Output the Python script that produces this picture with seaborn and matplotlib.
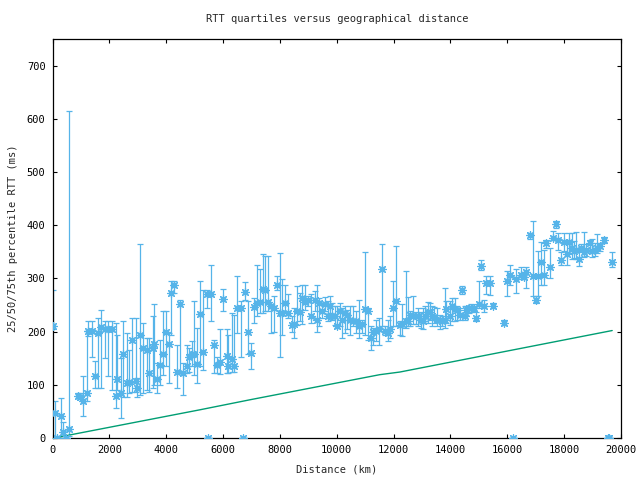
import matplotlib
matplotlib.use("Agg")
import matplotlib.pyplot as plt
import numpy as np
import seaborn as sns

# distance (km) and 25/50/75th percentile RTT (ms)
distance_km = [
    0, 90, 150, 300, 380, 475, 590, 885, 965, 1085, 1200, 1260, 1375, 1495,
    1610, 1695, 1845, 1965, 2080, 2220, 2255, 2395, 2490, 2610, 2690, 2805,
    2935, 2985, 3075, 3195, 3310, 3405, 3520, 3570, 3685, 3780, 3895, 3990,
    4110, 4165, 4285, 4365, 4485, 4600, 4715, 4810, 4895, 4975, 5090, 5185,
    5305, 5420, 5470, 5560, 5680, 5770, 5890, 5985, 6125, 6180, 6300, 6380,
    6500, 6615, 6700, 6770, 6885,
    7000, 7095, 7200, 7295, 7410, 7470, 7590, 7680, 7785, 7905, 8000, 8090,
    8195, 8290, 8410, 8500, 8605, 8700, 8785, 8875, 8995, 9090, 9230, 9320,
    9380, 9485, 9580, 9675, 9755, 9850, 9930, 10025, 10105, 10200, 10305,
    10375, 10480, 10575, 10660, 10785, 10895, 10985, 11105, 11220, 11280,
    11395, 11480, 11595, 11690, 11805, 11890, 11985, 12100,
    12215, 12310, 12425, 12510, 12590, 12685, 12780, 12860, 12955, 13035,
    13120, 13210, 13270, 13350, 13420, 13530, 13620, 13705, 13795, 13855,
    13975, 14055, 14150, 14230, 14325, 14405, 14500, 14560, 14640, 14735,
    14830, 14910, 14995, 15085, 15180, 15260, 15380, 15495, 15885, 16000,
    16105, 16200, 16295, 16495, 16575, 16670, 16785, 16905, 16995, 17080,
    17195, 17280, 17370, 17515, 17605, 17700, 17780, 17900, 17980, 18100,
    18170, 18285, 18345, 18425, 18520, 18605, 18685, 18780, 18895, 18990,
    19070, 19155, 19245, 19390, 19540, 19580, 19690,
]
rtt_median = [
    210, 47, 0, 42, 12, 0, 16, 79, 78, 69, 84, 202, 202, 117,
    197, 209, 205, 204, 204, 79, 111, 84, 158, 104, 106, 184,
    108, 94, 194, 169, 165, 122, 169, 177, 111, 138, 158, 199,
    177, 272, 287, 125, 251, 122, 136, 153, 157, 158, 140, 234,
    162, 270, 0, 270, 174, 138, 143, 262, 155, 135, 148, 136,
    245, 245, 0, 274, 199,
    160, 246, 253, 255, 280, 278, 255, 248, 244, 288, 235, 235,
    253, 235, 213, 215, 238, 236, 263, 255, 260, 229, 260, 222,
    254, 238, 251, 229, 249, 229, 230, 210, 238, 222, 235,
    232, 221, 219, 219, 210, 215, 243, 239, 188, 200,
    202, 204, 318, 202, 197, 204, 244, 257,
    213, 215, 219, 219, 232, 230, 229, 230, 221, 219,
    229, 236, 236, 229, 228, 222, 221, 219, 222, 243,
    229, 249, 243, 240, 232, 279, 229, 240, 244, 244,
    244, 226, 251, 324, 248, 292, 292, 249, 217, 295,
    307, 0, 299, 307, 303, 312, 381, 305, 260, 305,
    331, 307, 366, 322, 376, 402, 373, 334, 368, 345,
    368, 358, 351, 354, 336, 358, 349, 353, 366, 351,
    354, 358, 361, 373, 0, 0, 331,
]
rtt_p25 = [
    205, 3, 0, 3, 3, 0, 3, 75, 75, 42, 69, 191, 153, 94,
    94, 94, 150, 116, 91, 56, 91, 37, 78, 78, 84, 87,
    87, 78, 81, 84, 91, 86, 94, 100, 84, 100, 119, 135,
    103, 194, 273, 94, 125, 81, 122, 125, 135, 119, 104, 135,
    128, 245, 0, 219, 122, 122, 121, 238, 122, 122, 125, 125,
    197, 153, 0, 260, 157,
    129, 216, 229, 235, 235, 238, 238, 197, 200, 279, 153, 194,
    235, 226, 199, 188, 213, 219, 215, 241, 248, 216, 238, 200,
    210, 226, 238, 219, 235, 222, 213, 207, 210, 188, 197,
    204, 194, 210, 197, 188, 197, 194, 185, 166, 175,
    182, 175, 210, 194, 182, 188, 210, 210,
    194, 191, 207, 210, 210, 215, 215, 210, 207, 205,
    216, 216, 222, 210, 216, 210, 205, 210, 207, 216,
    213, 219, 219, 222, 222, 270, 222, 232, 235, 236,
    238, 219, 244, 315, 236, 270, 268, 244, 213, 266,
    287, 0, 273, 299, 298, 282, 375, 266, 253, 266,
    287, 288, 358, 301, 373, 395, 354, 326, 351, 326,
    348, 336, 339, 336, 323, 351, 341, 343, 348, 341,
    343, 348, 351, 367, 0, 0, 322,
]
rtt_p75 = [
    279, 69, 0, 75, 31, 0, 614, 84, 84, 116, 201, 219, 219, 144,
    226, 241, 219, 219, 219, 216, 194, 150, 219, 197, 166, 226,
    226, 113, 364, 216, 188, 188, 229, 251, 141, 185, 238, 238,
    197, 295, 295, 175, 260, 141, 175, 169, 182, 257, 207, 295,
    279, 279, 0, 326, 185, 153, 204, 280, 204, 194, 235, 232,
    304, 257, 0, 293, 257,
    178, 263, 326, 318, 345, 343, 342, 251, 266, 304, 348, 298,
    287, 270, 229, 244, 285, 273, 288, 288, 266, 270, 276, 287,
    263, 251, 265, 257, 266, 254, 249, 248, 254, 244, 249,
    240, 248, 249, 238, 260, 222, 349, 244, 210, 207,
    222, 226, 364, 210, 222, 229, 295, 361,
    219, 251, 314, 265, 238, 266, 236, 244, 236, 244,
    249, 255, 253, 249, 246, 244, 232, 230, 282, 257,
    257, 263, 263, 249, 244, 285, 249, 248, 249, 251,
    249, 236, 295, 334, 260, 304, 305, 254, 222, 314,
    326, 0, 318, 322, 312, 322, 386, 408, 266, 351,
    368, 354, 373, 358, 389, 408, 386, 349, 386, 373,
    386, 386, 370, 387, 354, 364, 387, 364, 373, 375,
    367, 383, 367, 378, 0, 0, 349,
]

# lower bound line (green)
bound_km = [150, 5185, 6960, 11510, 12220, 19690]
bound_ms = [1, 53, 72, 119, 124, 202]

BLUE = "#56B4E9"
GREEN = "#009E73"

sns.set_style("ticks")
plt.rcParams["font.family"] = ["DejaVu Sans Mono", "DejaVu Sans"]
plt.rcParams["font.size"] = 7.5

fig = plt.figure(figsize=(6.4, 4.8), dpi=100)
ax = fig.add_axes([52.5 / 640, 42 / 480, 568.5 / 640, 399 / 480])

med = np.array(rtt_median, dtype=float)
lo = med - np.array(rtt_p25, dtype=float)
hi = np.array(rtt_p75, dtype=float) - med

ax.errorbar(distance_km, med, yerr=[lo, hi], fmt="none", ecolor=BLUE,
            elinewidth=0.9, capsize=2.2, capthick=0.9, zorder=2)
sns.scatterplot(x=distance_km, y=rtt_median, marker=(8, 2, 0), s=30,
                color=BLUE, linewidth=0.9, ax=ax, zorder=3)
sns.lineplot(x=bound_km, y=bound_ms, color=GREEN, linewidth=1.0, ax=ax,
             zorder=2)

ax.set_xlim(0, 20000)
ax.set_ylim(0, 750)
ax.set_xticks(range(0, 20001, 2000))
ax.set_yticks(range(0, 701, 100))
ax.tick_params(direction="in", length=3, width=0.8, top=True, right=True,
               labelsize=7.5, pad=5, colors="black")
for sp in ax.spines.values():
    sp.set_linewidth(0.9)
    sp.set_color("black")

ax.set_title("RTT quartiles versus geographical distance", fontsize=7.5,
             pad=12)
ax.set_xlabel("Distance (km)", fontsize=7.5, labelpad=7)
ax.set_ylabel("25/50/75th percentile RTT (ms)", fontsize=7.5, labelpad=6)

fig.savefig("out.png", dpi=100)
